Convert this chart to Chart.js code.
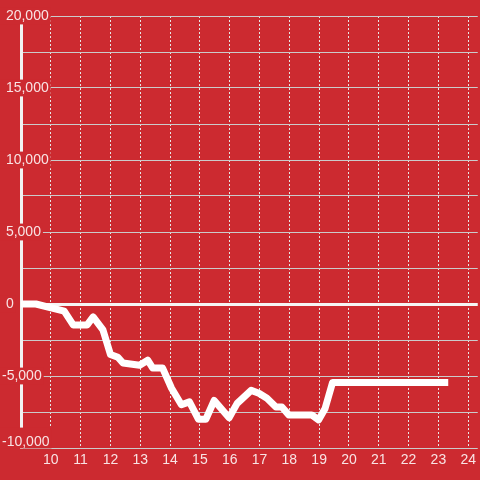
<!DOCTYPE html>
<html>
<head>
<meta charset="utf-8">
<script src="https://cdn.jsdelivr.net/npm/chart.js@4.4.1/dist/chart.umd.min.js"></script>
<style>
  html, body { margin: 0; padding: 0; background: #cc2a30; }
  #wrap { width: 480px; height: 480px; }
</style>
</head>
<body>
<div id="wrap"><canvas id="balanceChart" width="480" height="480"></canvas></div>
<script>
// hour of day vs running balance
const hours = [9, 9.5, 10.45, 10.75, 11.22, 11.42, 11.75, 12.0, 12.25, 12.42, 12.98, 13.25, 13.42, 13.75,
  14.05, 14.38, 14.65, 14.95, 15.2, 15.48, 15.98, 16.25, 16.72, 16.98, 17.25, 17.55, 17.75, 17.98,
  18.75, 18.98, 19.2, 19.45, 23.33];
const balance = [0, 0, -500, -1450, -1450, -900, -1800, -3500, -3700, -4100, -4250, -3900, -4450, -4450,
  -5850, -7000, -6800, -8000, -8000, -6700, -7900, -6900, -6000, -6200, -6550, -7150, -7150, -7700,
  -7700, -8050, -7250, -5450, -5450];
const hourTicks = [10, 11, 12, 13, 14, 15, 16, 17, 18, 19, 20, 21, 22, 23, 24];

const bgRed = '#cc2a30';
const labelColor = 'rgba(255,255,255,0.87)';

Chart.defaults.font.family = '"Liberation Sans", Arial, sans-serif';
Chart.defaults.font.size = 14;

const points = hours.map((h, i) => ({x: h, y: balance[i]}));

// bottom y label sits a bit above its grid line in the original
const liftBottomLabel = {
  id: 'liftBottomLabel',
  beforeDraw(chart) {
    const s = chart.scales.y;
    s.getLabelItems(chart.chartArea).forEach(item => {
      if (item.label === '-10,000') {
        item.options.translation[1] -= 6;
        const b = item.options.backdrop;
        if (b) { b.top -= 6; b.height += 4; }
      }
    });
  }
};

const ctx = document.getElementById('balanceChart').getContext('2d');
new Chart(ctx, {
  type: 'line',
  data: {
    datasets: [{
      data: points,
      borderColor: '#ffffff',
      borderWidth: 7,
      borderJoinStyle: 'round',
      pointRadius: 0,
      tension: 0,
      fill: false
    }]
  },
  options: {
    responsive: false,
    animation: false,
    layout: { padding: { top: 16, right: 0, bottom: 0, left: 0 }, autoPadding: false },
    plugins: { legend: { display: false }, tooltip: { enabled: false } },
    scales: {
      x: {
        type: 'linear',
        min: 9,
        max: 24.32,
        afterBuildTicks: (s) => { s.ticks = hourTicks.map(v => ({value: v})); },
        afterFit: (s) => { s.height = 32; },
        border: { display: false, dash: [2, 2] },
        grid: {
          color: '#e6e6e6',
          lineWidth: 1,
          drawTicks: false
        },
        ticks: {
          color: labelColor,
          padding: 4,
          autoSkip: false,
          maxRotation: 0
        }
      },
      y: {
        min: -10000,
        max: 20000,
        afterFit: (s) => { s.width = 21; },
        border: { display: true, color: '#f2f2f2', width: 3 },
        grid: {
          color: (c) => c.tick && c.tick.value === 0 ? '#f5f5f5' : '#cbcbcb',
          lineWidth: (c) => c.tick && c.tick.value === 0 ? 3 : 1,
          drawTicks: false
        },
        ticks: {
          stepSize: 2500,
          color: labelColor,
          mirror: true,
          crossAlign: 'near',
          padding: -19,
          callback: (v) => {
            if (v % 5000 !== 0) return '';
            const s = Math.abs(v).toLocaleString('en-US');
            return v < 0 ? '-' + s : ' ' + s;
          },
          showLabelBackdrop: (c) => c.tick && c.tick.value % 5000 === 0,
          backdropColor: bgRed,
          backdropPadding: { top: 0, bottom: 0, left: 2, right: 2 }
        }
      }
    }
  },
  plugins: [liftBottomLabel]
});
</script>
</body>
</html>
